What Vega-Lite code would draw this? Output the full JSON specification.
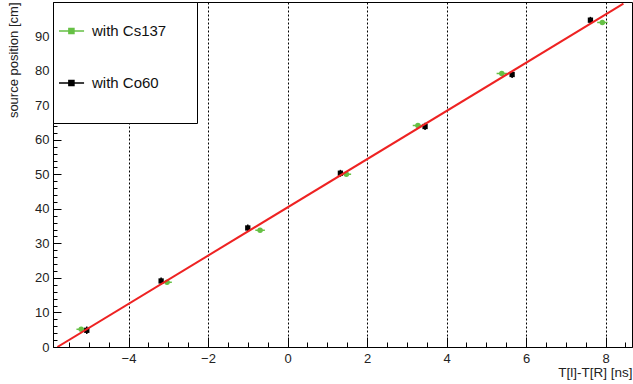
{
  "$schema": "https://vega.github.io/schema/vega-lite/v6.json",
  "width": 579,
  "height": 345,
  "autosize": {"type": "none"},
  "padding": {"left": 53, "top": 2, "right": 1, "bottom": 37},
  "background": "white",
  "config": {
    "view": {"stroke": "black", "strokeWidth": 1},
    "font": "Liberation Sans"
  },
  "datasets": {
    "pts": [
      {"source": "with Cs137", "t": -5.19, "pos": 5.13, "t_lo": -5.31, "t_hi": -5.07, "pos_lo": 4.6, "pos_hi": 5.6},
      {"source": "with Cs137", "t": -3.03, "pos": 18.74, "t_lo": -3.15, "t_hi": -2.91, "pos_lo": 18.2, "pos_hi": 19.2},
      {"source": "with Cs137", "t": -0.69, "pos": 33.8, "t_lo": -0.81, "t_hi": -0.57, "pos_lo": 33.3, "pos_hi": 34.3},
      {"source": "with Cs137", "t": 1.48, "pos": 50.03, "t_lo": 1.36, "t_hi": 1.6, "pos_lo": 49.5, "pos_hi": 50.5},
      {"source": "with Cs137", "t": 3.28, "pos": 64.14, "t_lo": 3.15, "t_hi": 3.41, "pos_lo": 63.6, "pos_hi": 64.6},
      {"source": "with Cs137", "t": 5.39, "pos": 79.2, "t_lo": 5.26, "t_hi": 5.52, "pos_lo": 78.7, "pos_hi": 79.7},
      {"source": "with Cs137", "t": 7.92, "pos": 93.97, "t_lo": 7.79, "t_hi": 8.05, "pos_lo": 93.5, "pos_hi": 94.5},
      {"source": "with Co60", "t": -5.05, "pos": 4.84, "t_lo": -5.09, "t_hi": -5.01, "pos_lo": 3.8, "pos_hi": 5.9},
      {"source": "with Co60", "t": -3.18, "pos": 19.12, "t_lo": -3.22, "t_hi": -3.14, "pos_lo": 18.1, "pos_hi": 20.1},
      {"source": "with Co60", "t": -1.0, "pos": 34.47, "t_lo": -1.04, "t_hi": -0.96, "pos_lo": 33.5, "pos_hi": 35.5},
      {"source": "with Co60", "t": 1.33, "pos": 50.32, "t_lo": 1.29, "t_hi": 1.37, "pos_lo": 49.3, "pos_hi": 51.3},
      {"source": "with Co60", "t": 3.46, "pos": 63.85, "t_lo": 3.42, "t_hi": 3.5, "pos_lo": 62.8, "pos_hi": 64.9},
      {"source": "with Co60", "t": 5.65, "pos": 78.91, "t_lo": 5.61, "t_hi": 5.69, "pos_lo": 77.9, "pos_hi": 79.9},
      {"source": "with Co60", "t": 7.62, "pos": 94.64, "t_lo": 7.58, "t_hi": 7.66, "pos_lo": 93.6, "pos_hi": 95.6}
    ],
    "fit": [
      {"t": -5.79, "pos": 0},
      {"t": 8.45, "pos": 99.4}
    ]
  },
  "encoding": {
    "x": {
      "field": "t",
      "type": "quantitative",
      "title": "T[l]-T[R] [ns]",
      "scale": {"domain": [-5.9, 8.666], "nice": false, "zero": false},
      "axis": {
        "values": [-5.5, -5, -4.5, -4, -3.5, -3, -2.5, -2, -1.5, -1, -0.5, 0, 0.5, 1, 1.5, 2, 2.5, 3, 3.5, 4, 4.5, 5, 5.5, 6, 6.5, 7, 7.5, 8, 8.5],
        "tickSize": {"condition": {"test": "datum.value % 2 === 0", "value": -10}, "value": -5},
        "tickColor": "black",
        "tickWidth": 1,
        "domainColor": "black",
        "labelExpr": "datum.value % 2 === 0 ? format(datum.value, 'd') : ''",
        "labelOverlap": false,
        "labelFlush": false,
        "labelFontSize": 13,
        "labelColor": "#222",
        "labelPadding": 15,
        "grid": true,
        "gridColor": "black",
        "gridDash": [2, 2],
        "gridWidth": 1,
        "gridOpacity": {"condition": {"test": "datum.value % 2 === 0", "value": 1}, "value": 0},
        "titleX": 579,
        "titleY": 29.5,
        "titleAlign": "right",
        "titleBaseline": "alphabetic",
        "titleFontWeight": "normal",
        "titleFontSize": 13.5,
        "titleColor": "#222"
      }
    },
    "y": {
      "field": "pos",
      "type": "quantitative",
      "title": "source position [cm]",
      "scale": {"domain": [0, 99.9], "nice": false, "zero": false},
      "axis": {
        "values": [0, 2, 4, 6, 8, 10, 12, 14, 16, 18, 20, 22, 24, 26, 28, 30, 32, 34, 36, 38, 40, 42, 44, 46, 48, 50, 52, 54, 56, 58, 60, 62, 64, 66, 68, 70, 72, 74, 76, 78, 80, 82, 84, 86, 88, 90, 92, 94, 96, 98],
        "tickSize": {"condition": {"test": "datum.value % 10 === 0", "value": -8}, "value": -4},
        "tickColor": "black",
        "tickWidth": 1,
        "domainColor": "black",
        "labelExpr": "datum.value % 10 === 0 ? format(datum.value, 'd') : ''",
        "labelOverlap": false,
        "labelFlush": false,
        "labelFontSize": 13,
        "labelColor": "#222",
        "labelPadding": 12,
        "grid": false,
        "titleX": -35.5,
        "titleY": 0,
        "titleAngle": -90,
        "titleAlign": "right",
        "titleBaseline": "alphabetic",
        "titleFontWeight": "normal",
        "titleFontSize": 13,
        "titleColor": "#222"
      }
    },
    "color": {
      "field": "source",
      "type": "nominal",
      "scale": {"domain": ["with Cs137", "with Co60"], "range": ["#66c045", "#000000"]},
      "legend": {
        "orient": "none",
        "legendX": 0,
        "legendY": 0,
        "title": " ",
        "titleOrient": "right",
        "titlePadding": 26,
        "titleFontSize": 69,
        "titleBaseline": "top",
        "titleLineHeight": 69,
        "padding": 5,
        "fillColor": "white",
        "strokeColor": "black",
        "symbolType": "M-1,0H0.09M-0.57,-0.11H-0.35V0.11H-0.57Z",
        "symbolSize": 2116,
        "symbolStrokeWidth": 1.5,
        "symbolOpacity": 1,
        "labelFontSize": 15,
        "labelColor": "#111",
        "labelOffset": -14,
        "rowPadding": 20
      }
    }
  },
  "layer": [
    {
      "data": {"name": "pts"},
      "mark": {"type": "rule", "strokeWidth": 1.5},
      "encoding": {
        "x": {"field": "t_lo", "type": "quantitative", "title": "T[l]-T[R] [ns]"},
        "x2": {"field": "t_hi"}
      }
    },
    {
      "data": {"name": "pts"},
      "mark": {"type": "rule", "strokeWidth": 1.5},
      "encoding": {
        "y": {"field": "pos_lo", "type": "quantitative", "title": "source position [cm]"},
        "y2": {"field": "pos_hi"}
      }
    },
    {
      "data": {"name": "pts"},
      "transform": [{"filter": "datum.source === 'with Cs137'"}],
      "mark": {"type": "point", "shape": "circle", "filled": true, "opacity": 1, "size": 30}
    },
    {
      "data": {"name": "pts"},
      "transform": [{"filter": "datum.source === 'with Co60'"}],
      "mark": {"type": "point", "shape": "square", "filled": true, "opacity": 1, "size": 28}
    },
    {
      "data": {"name": "fit"},
      "mark": {"type": "line", "color": "#ee2222", "strokeWidth": 2, "clip": true},
      "encoding": {"color": {"value": "#ee2222"}}
    }
  ]
}
